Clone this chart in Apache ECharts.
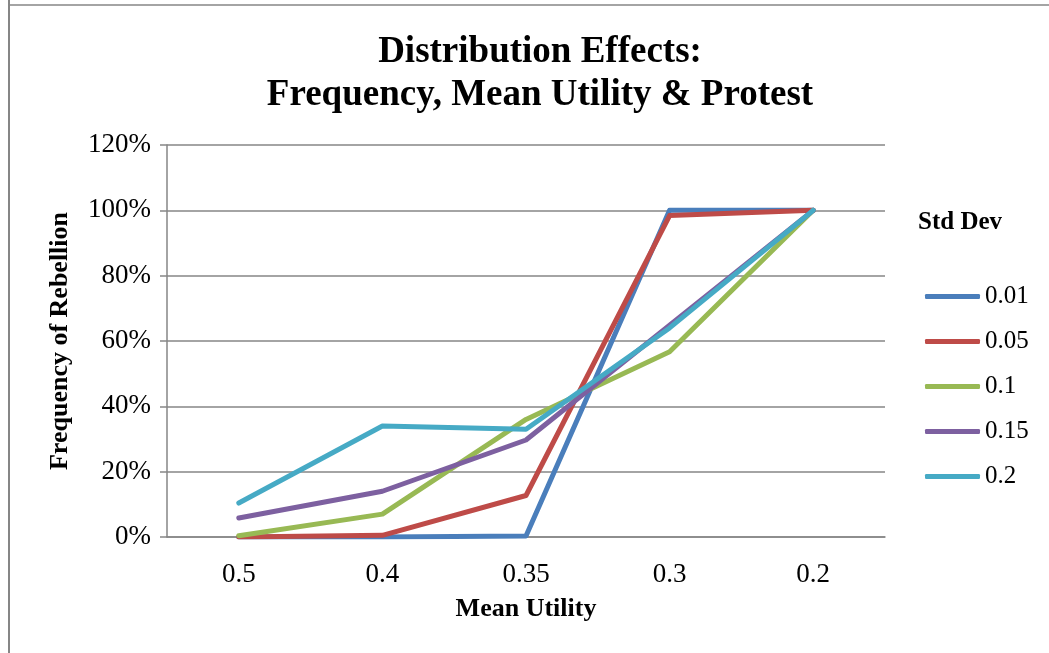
<!DOCTYPE html>
<html>
<head>
<meta charset="utf-8">
<script src="https://cdn.jsdelivr.net/npm/echarts@6/dist/echarts.min.js"></script>
<style>html,body{margin:0;padding:0;background:#fff;}#c{width:1049px;height:653px;}</style>
</head>
<body>
<div id="c"></div>
<script>
var categories = ['0.5', '0.4', '0.35', '0.3', '0.2'];
var seriesNames = ['0.01', '0.05', '0.1', '0.15', '0.2'];
var sd001 = [0, 0, 0.003, 1.0, 1.0];
var sd005 = [0, 0.005, 0.127, 0.984, 1.0];
var sd01 = [0.004, 0.07, 0.36, 0.567, 1.0];
var sd015 = [0.058, 0.14, 0.297, 0.648, 1.0];
var sd02 = [0.104, 0.34, 0.33, 0.64, 1.0];
var yTicks = [0, 0.2, 0.4, 0.6, 0.8, 1.0, 1.2];
var colors = ['#4A7EBB', '#BE4B48', '#98B954', '#7D60A0', '#46AAC5'];

var allData = [sd001, sd005, sd01, sd015, sd02];
var font = '"Liberation Serif", "Times New Roman", serif';
var chart = echarts.init(document.getElementById('c'));
chart.setOption({
  animation: false,
  backgroundColor: '#fff',
  color: colors,
  title: {
    text: 'Distribution Effects:\nFrequency, Mean Utility & Protest',
    left: 535, top: 26, textAlign: 'center',
    textStyle: {fontFamily: font, fontSize: 37, fontWeight: 'bold', color: '#000', lineHeight: 43}
  },
  legend: {
    orient: 'vertical', left: 920, top: 279,
    data: seriesNames,
    icon: 'roundRect', itemWidth: 55, itemHeight: 5, itemGap: 20, itemTextGap: 4,
    textStyle: {fontFamily: font, fontSize: 25, color: '#000'}
  },
  graphic: [
    {type: 'text', left: 918, top: 210, style: {text: 'Std Dev', font: 'bold 25px ' + font, fill: '#000'}},
    {type: 'line', shape: {x1: 9, y1: 0, x2: 9, y2: 653}, style: {stroke: '#868686', lineWidth: 2}},
    {type: 'line', shape: {x1: 9, y1: 5, x2: 1049, y2: 5}, style: {stroke: '#868686', lineWidth: 1.5}}
  ],
  grid: {left: 167, right: 164, top: 145, bottom: 116, containLabel: false},
  xAxis: {
    type: 'category', data: categories, boundaryGap: true,
    name: 'Mean Utility', nameLocation: 'middle', nameGap: 59,
    nameTextStyle: {fontFamily: font, fontSize: 26, fontWeight: 'bold', color: '#000'},
    axisLine: {show: true, lineStyle: {color: '#868686', width: 1.5}},
    axisTick: {show: false},
    axisLabel: {fontFamily: font, fontSize: 27, color: '#000', margin: 24}
  },
  yAxis: {
    type: 'value', min: yTicks[0], max: yTicks[yTicks.length - 1], interval: 0.2,
    name: 'Frequency of Rebellion', nameLocation: 'middle', nameGap: 94,
    nameTextStyle: {fontFamily: font, fontSize: 26, fontWeight: 'bold', color: '#000'},
    axisLine: {show: true, lineStyle: {color: '#868686', width: 1.5}},
    axisTick: {show: true, length: 7, lineStyle: {color: '#868686', width: 1.5}},
    axisLabel: {fontFamily: font, fontSize: 27, color: '#000', margin: 16,
      formatter: function (v) { return Math.round(v * 100) + '%'; }},
    splitLine: {show: true, lineStyle: {color: '#868686', width: 1.5}}
  },
  series: allData.map(function (d, i) {
    return {
      name: seriesNames[i], type: 'line', data: d,
      symbol: 'none', showSymbol: false,
      lineStyle: {width: 5, color: colors[i], cap: 'round', join: 'round'},
      itemStyle: {color: colors[i]}
    };
  })
});
</script>
</body>
</html>
